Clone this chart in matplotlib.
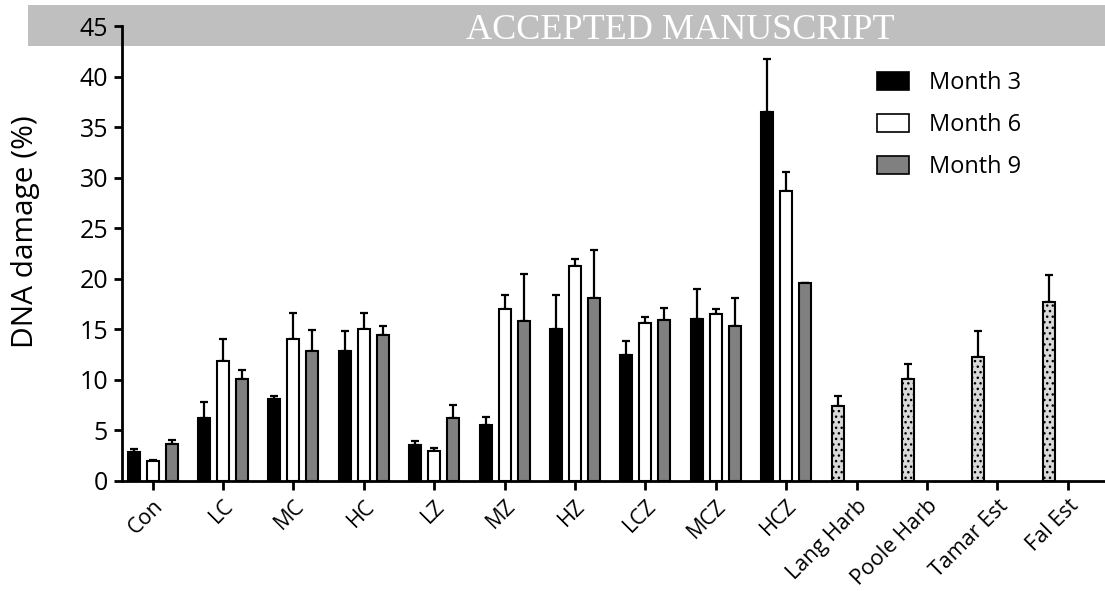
import matplotlib
matplotlib.use("Agg")
import matplotlib.pyplot as plt
import numpy as np
from matplotlib.patches import Rectangle, Patch

# ---- data ----
categories = ["Con", "LC", "MC", "HC", "LZ", "MZ", "HZ", "LCZ", "MCZ", "HCZ",
              "Lang Harb", "Poole Harb", "Tamar Est", "Fal Est"]
month3 = [2.9, 6.2, 8.1, 12.9, 3.6, 5.5, 15.0, 12.5, 16.0, 36.5]
month3_err = [0.25, 1.6, 0.35, 1.95, 0.4, 0.85, 3.4, 1.3, 3.0, 5.2]
month6 = [2.0, 11.9, 14.0, 15.0, 3.0, 17.0, 21.3, 15.6, 16.55, 28.7]
month6_err = [0.05, 2.1, 2.6, 1.6, 0.3, 1.4, 0.7, 0.6, 0.5, 1.9]
month9 = [3.65, 10.1, 12.9, 14.4, 6.2, 15.8, 18.1, 15.9, 15.35, 19.6]
month9_err = [0.42, 0.85, 2.05, 0.95, 1.3, 4.7, 4.7, 1.25, 2.7, 0.0]
field = [7.4, 10.1, 12.3, 17.7]
field_err = [1.05, 1.45, 2.55, 2.7]
series_labels = ["Month 3", "Month 6", "Month 9"]

plt.rcParams['font.family'] = ['Open Sans', 'DejaVu Sans']
plt.rcParams['hatch.linewidth'] = 1.0

fig = plt.figure(figsize=(11.05, 5.91), dpi=100)

# banner
fig.patches.append(Rectangle((28/1105, (591-46)/591), 1, 41/591,
                             transform=fig.transFigure, facecolor='#BFBFBF',
                             edgecolor='none', zorder=-2))
fig.text(680/1105, (591-39)/591, "ACCEPTED MANUSCRIPT", color='white',
         family='Liberation Serif', fontsize=26, ha='center', va='baseline', zorder=-1)

ax = fig.add_axes([122/1105, 110/591, 1 - 122/1105, (481-26)/591])
ax.patch.set_alpha(0)

n = len(month3)
x = np.arange(n)
w = 0.17
off = 0.27
ekw = dict(elinewidth=1.6, capsize=2.6, capthick=1.6, ecolor='black')

def bars(pos, vals, errs, fc, hatch=None, label=None):
    ax.bar(pos, vals, width=w, color=fc, edgecolor='black', linewidth=1.5,
           hatch=hatch, label=label, zorder=3)
    ax.errorbar(pos, vals, yerr=[np.zeros(len(vals)), errs], fmt='none',
                zorder=2, **ekw)

bars(x - off, month3, month3_err, 'black', label=series_labels[0])
bars(x, month6, month6_err, 'white', label=series_labels[1])
bars(x + off, month9, month9_err, '#808080', label=series_labels[2])
xf = np.arange(n, len(categories))
bars(xf - off, field, field_err, '#D9D9D9', hatch='...')

ax.set_ylim(0, 45)
ax.set_xlim(-0.436, 13.53)
ax.set_yticks(np.arange(0, 46, 5))
ax.set_xticks(np.arange(len(categories)))
ax.set_xticklabels(categories, rotation=45, ha='right', rotation_mode='anchor',
                   fontsize=15.5)
ax.tick_params(axis='y', labelsize=18, width=2, length=6, pad=4)
ax.tick_params(axis='x', width=2, length=6.5, pad=4)
for s in ['top', 'right']:
    ax.spines[s].set_visible(False)
for s in ['left', 'bottom']:
    ax.spines[s].set_linewidth(2)
ax.set_ylabel("DNA damage (%)", fontsize=21.5)
ax.yaxis.set_label_coords(-0.0834, 0.548)

handles = [Patch(facecolor='black', edgecolor='black', linewidth=1.2),
           Patch(facecolor='white', edgecolor='black', linewidth=1.2),
           Patch(facecolor='#808080', edgecolor='black', linewidth=1.2)]
ax.legend(handles, series_labels, loc='upper left', bbox_to_anchor=(0.758, 0.921),
          frameon=False, fontsize=17, handlelength=1.36, handleheight=0.76,
          labelspacing=0.76, handletextpad=0.85, borderaxespad=0)

fig.savefig("out.png", dpi=100)
